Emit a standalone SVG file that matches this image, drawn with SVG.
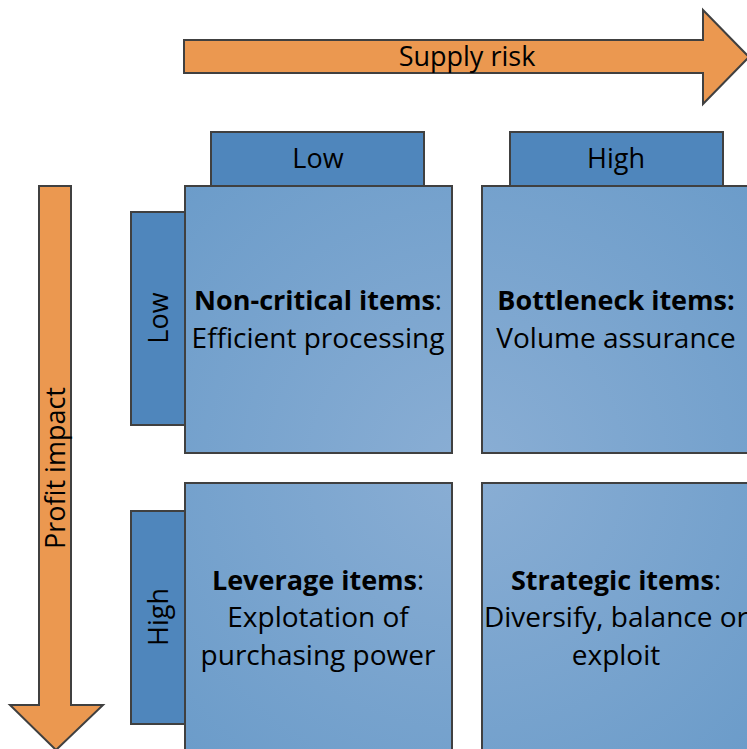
<svg xmlns="http://www.w3.org/2000/svg" width="747" height="749" viewBox="0 0 747 749">
<style>
text{font-family:"Open Sans","Liberation Sans",Arial,sans-serif;fill:#000;text-anchor:middle}
.lbl{font-size:27px}
.body{font-size:28px}
.h{font-size:27px}
.b{font-weight:bold}
.tab{fill:#4f86bc;stroke:#404040;stroke-width:2}
.box{fill:url(#g);stroke:#404040;stroke-width:2}
.arr{fill:#eb9850;stroke:#404040;stroke-width:2}
</style>
<defs>
<radialGradient id="g" gradientUnits="userSpaceOnUse" cx="467" cy="468" r="420">
<stop offset="0" stop-color="#8aaed4"/>
<stop offset="1" stop-color="#6a9bc9"/>
</radialGradient>
</defs>
<g id="supply-risk">
<polygon class="arr" points="184,40 703,40 703,10 749,57 703,104 703,73 184,73"/>
<text class="lbl" x="467" y="66">Supply risk</text>
</g>
<g id="profit-impact">
<polygon class="arr" points="39,186 71,186 71,705 103,705 56,750 10,705 39,705"/>
<text class="lbl" transform="translate(65,468) rotate(-90)">Profit impact</text>
</g>
<g id="tab-low-top">
<rect class="tab" x="211" y="132" width="213" height="54"/>
<text class="lbl" x="318" y="168">Low</text>
</g>
<g id="tab-high-top">
<rect class="tab" x="510" y="132" width="213" height="54"/>
<text class="lbl" x="616" y="168">High</text>
</g>
<g id="tab-low-left">
<rect class="tab" x="131" y="212" width="54" height="213"/>
<text class="lbl" transform="translate(168,318) rotate(-90)">Low</text>
</g>
<g id="tab-high-left">
<rect class="tab" x="131" y="511" width="54" height="213"/>
<text class="lbl" transform="translate(168,617) rotate(-90)">High</text>
</g>
<g id="non-critical">
<rect class="box" x="185" y="186" width="267" height="267"/>
<text class="h" x="318" y="310"><tspan class="b">Non-critical items</tspan>:</text>
<text class="body" x="318" y="348">Efficient processing</text>
</g>
<g id="bottleneck">
<rect class="box" x="482" y="186" width="267" height="267"/>
<text class="h b" x="616" y="310">Bottleneck items:</text>
<text class="body" x="616" y="348">Volume assurance</text>
</g>
<g id="leverage">
<rect class="box" x="185" y="483" width="267" height="267"/>
<text class="h" x="318" y="590"><tspan class="b">Leverage items</tspan>:</text>
<text class="body" x="318" y="627">Explotation of</text>
<text class="body" x="318" y="665">purchasing power</text>
</g>
<g id="strategic">
<rect class="box" x="482" y="483" width="267" height="267"/>
<text class="h" x="616" y="590"><tspan class="b">Strategic items</tspan>:</text>
<text class="body" x="616" y="627">Diversify, balance or</text>
<text class="body" x="616" y="665">exploit</text>
</g>
<g id="connectors"></g>
</svg>
